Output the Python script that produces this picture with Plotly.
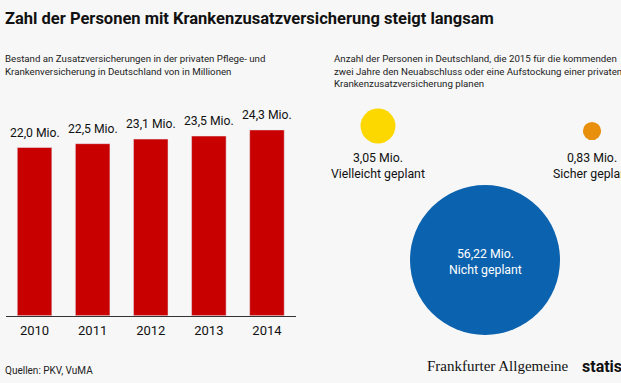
import plotly.graph_objects as go

# ---- data ----
years = ["2010", "2011", "2012", "2013", "2014"]
bestand_mio = [22.0, 22.5, 23.1, 23.5, 24.3]

plan_labels = ["Vielleicht geplant", "Sicher geplant", "Nicht geplant"]
plan_mio = [3.05, 0.83, 56.22]

title = "Zahl der Personen mit Krankenzusatzversicherung steigt langsam"
sub_left = "Bestand an Zusatzversicherungen in der privaten Pflege- und<br>Krankenversicherung in Deutschland von in Millionen"
sub_right = ("Anzahl der Personen in Deutschland, die 2015 für die kommenden<br>"
             "zwei Jahre den Neuabschluss oder eine Aufstockung einer privaten<br>"
             "Krankenzusatzversicherung planen")
source = "Quellen: PKV, VuMA"

# ---- style / layout ----
W, H = 621, 383
FONT = "Roboto, Liberation Sans, sans-serif"
BG = "#f7f7f7"
RED = "#c80000"
bubble_colors = ["#fdd700", "#e8900c", "#0b62ae"]
# bubble centre placement (packed layout, pixel units of the right panel)
bubble_cx = [378, 592, 485]
bubble_cy = [126, 131, 260]
max_diam = 150


def de(v, nd):
    return f"{v:.{nd}f}".replace(".", ",") + " Mio."


fig = go.Figure()

fig.add_trace(go.Bar(
    x=years, y=bestand_mio, marker_color=RED,
    xaxis="x", yaxis="y", showlegend=False,
))

fig.add_trace(go.Scatter(
    x=bubble_cx, y=bubble_cy, mode="markers",
    marker=dict(size=plan_mio, sizemode="area",
                sizeref=2 * max(plan_mio) / max_diam ** 2,
                color=bubble_colors, line=dict(width=0), opacity=1),
    xaxis="x2", yaxis="y2", showlegend=False, hoverinfo="skip",
))

ann = []
# bar value labels (x = category index on the category axis)
for i, v in enumerate(bestand_mio):
    ann.append(dict(text=de(v, 1), x=i, y=v, xref="x", yref="y",
                    xanchor="center", yanchor="bottom", yshift=6, showarrow=False,
                    font=dict(family=FONT, size=12.2, color="#111")))

ann.append(dict(text=f"<b>{title}</b>", x=3 / W, y=1 - 18 / H, xref="paper", yref="paper",
                xanchor="left", yanchor="middle", showarrow=False,
                font=dict(family=FONT, size=16.5, color="#111")))
ann.append(dict(text=sub_left, x=3 / W, y=1 - 51 / H, xref="paper", yref="paper",
                xanchor="left", yanchor="top", align="left", showarrow=False,
                font=dict(family=FONT, size=9.7, color="#222")))
ann.append(dict(text=sub_right, x=332 / W, y=1 - 51 / H, xref="paper", yref="paper",
                xanchor="left", yanchor="top", align="left", showarrow=False,
                font=dict(family=FONT, size=9.7, color="#222")))
ann.append(dict(text=source, x=3 / W, y=1 - 370 / H, xref="paper", yref="paper",
                xanchor="left", yanchor="middle", showarrow=False,
                font=dict(family=FONT, size=10, color="#222")))
ann.append(dict(text="Frankfurter Allgemeine", x=425 / W, y=1 - 366 / H, xref="paper", yref="paper",
                xanchor="left", yanchor="middle", showarrow=False,
                font=dict(family="Liberation Serif, serif", size=15, color="#111")))
ann.append(dict(text="<b>statista</b>", x=580 / W, y=1 - 366 / H, xref="paper", yref="paper",
                xanchor="left", yanchor="middle", showarrow=False,
                font=dict(family=FONT, size=16, color="#111")))

# bubble labels
for i, (lab, v) in enumerate(zip(plan_labels, plan_mio)):
    txt = de(v, 2) + "<br>" + lab
    if i < 2:
        ann.append(dict(text=txt, x=bubble_cx[i], y=149, xref="x2", yref="y2",
                        xanchor="center", yanchor="top", showarrow=False,
                        font=dict(family=FONT, size=12.3, color="#111")))
    else:
        ann.append(dict(text=txt, x=bubble_cx[i], y=bubble_cy[i] + 2, xref="x2", yref="y2",
                        xanchor="center", yanchor="middle", showarrow=False,
                        font=dict(family=FONT, size=12.3, color="#ffffff")))

base_px = 315.7
fig.update_layout(
    width=W, height=H, margin=dict(l=0, r=0, t=0, b=0),
    paper_bgcolor=BG, plot_bgcolor="rgba(0,0,0,0)",
    bargap=0.405,
    xaxis=dict(domain=[5.5 / W, 296 / W], type="category", categoryorder="array",
               categoryarray=years, range=[-0.5, len(years) - 0.5], autorange=False,
               showline=True, linecolor="#333",
               linewidth=1, ticks="", showgrid=False, zeroline=False, ticklabelstandoff=3,
               tickfont=dict(family=FONT, size=13, color="#111"), anchor="y", fixedrange=True),
    yaxis=dict(domain=[1 - base_px / H, 1 - (base_px - 25 * 7.645) / H], range=[0, 25],
               autorange=False, visible=False, fixedrange=True),
    xaxis2=dict(domain=[0, 1], range=[0, W], autorange=False, visible=False, anchor="y2", fixedrange=True),
    yaxis2=dict(domain=[0, 1], range=[H, 0], autorange=False, visible=False, anchor="x2", fixedrange=True),
    annotations=ann,
    font=dict(family=FONT),
)

fig.write_html("out.html", config={"displayModeBar": False},
               post_script="document.body.style.margin='0';document.body.style.overflow='hidden';")
